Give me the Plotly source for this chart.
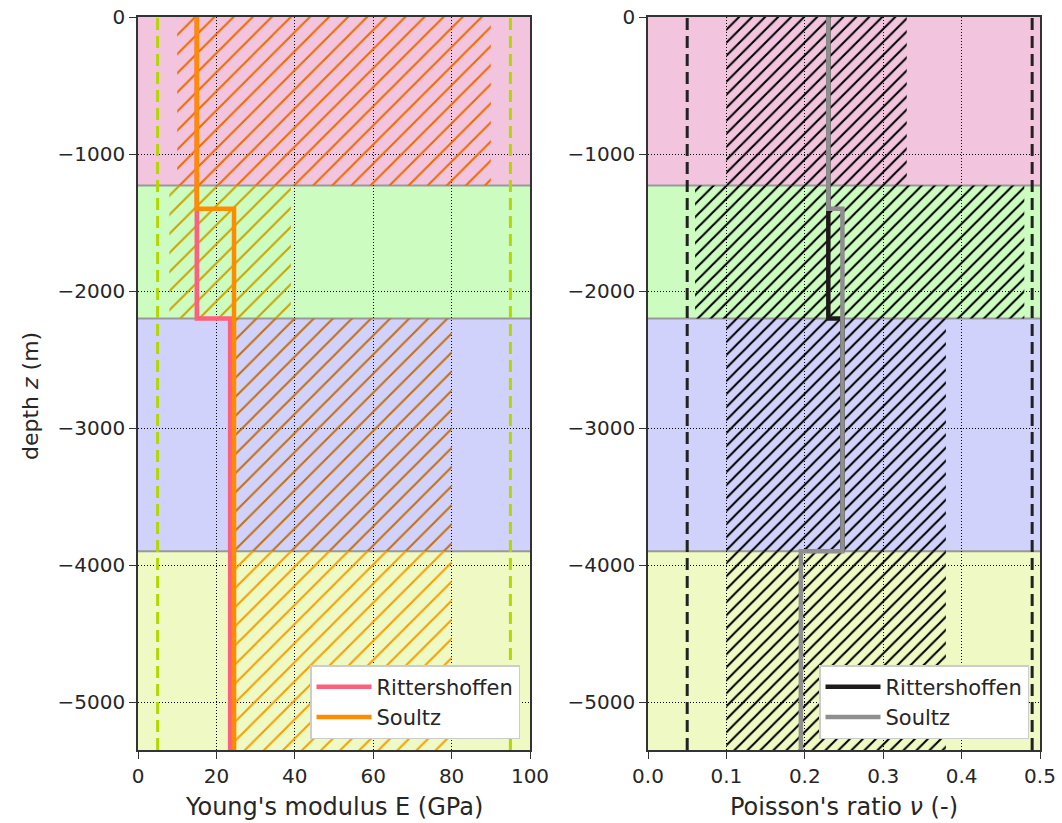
import plotly.graph_objects as go

# ---------------- data ----------------
layer_top = [0, -1230, -2200, -3900]
layer_bot = [-1230, -2200, -3900, -5350]
layer_colors = ["#f2c4dd", "#ccfcc0", "#d0d2fb", "#eff9c3"]

# Young's modulus hatched ranges per layer (GPa)
E_min = [10, 8, 25, 25]
E_max = [90, 39, 80, 80]
E_hatch_colors = ["#ee6a00", "#c9a400", "#c46e10", "#f4a000"]

# Poisson's ratio hatched ranges per layer
nu_min = [0.1, 0.06, 0.1, 0.1]
nu_max = [0.33, 0.48, 0.38, 0.38]

# profiles
ritt_E_depth = [0, -2200, -2200, -5350]
ritt_E = [15, 15, 23.5, 23.5]
soultz_E_depth = [0, -1400, -1400, -5350]
soultz_E = [15, 15, 24.5, 24.5]

ritt_nu_depth = [0, -2200, -2200, -3900]
ritt_nu = [0.23, 0.23, 0.248, 0.248]
soultz_nu_depth = [0, -1400, -1400, -3900, -3900, -5350]
soultz_nu = [0.23, 0.23, 0.248, 0.248, 0.195, 0.195]

E_bounds = [5, 95]
nu_bounds = [0.05, 0.49]

y_range = [-5350, 0]
E_ticks = [0, 20, 40, 60, 80, 100]
nu_ticks = [0.0, 0.1, 0.2, 0.3, 0.4, 0.5]
nu_ticklabels = ["0.0", "0.1", "0.2", "0.3", "0.4", "0.5"]
depth_ticks = [-5000, -4000, -3000, -2000, -1000, 0]

FONT = "DejaVu Sans"
TXT = "#262626"

fig = go.Figure()

# layer backgrounds
for i in range(4):
    for xr in ["x", "x2"]:
        fig.add_shape(type="rect", xref=xr + " domain", yref="y" if xr == "x" else "y2",
                      x0=0, x1=1, y0=layer_bot[i], y1=layer_top[i],
                      fillcolor=layer_colors[i], line_width=0, layer="below")
for i in range(1, 4):
    for xr in ["x", "x2"]:
        fig.add_shape(type="line", xref=xr + " domain", yref="y" if xr == "x" else "y2",
                      x0=0, x1=1, y0=layer_top[i], y1=layer_top[i],
                      line=dict(color="#999999", width=2), layer="below")

# hatched ranges
for i in range(4):
    fig.add_trace(go.Scatter(
        x=[E_min[i], E_max[i], E_max[i], E_min[i], E_min[i]],
        y=[layer_top[i], layer_top[i], layer_bot[i], layer_bot[i], layer_top[i]],
        mode="none", fill="toself", fillcolor="rgba(0,0,0,0)",
        fillpattern=dict(shape="/", fgcolor=E_hatch_colors[i], bgcolor="rgba(0,0,0,0)",
                         fgopacity=1, size=13.5, solidity=0.15),
        showlegend=False, hoverinfo="skip", xaxis="x", yaxis="y"))
    fig.add_trace(go.Scatter(
        x=[nu_min[i], nu_max[i], nu_max[i], nu_min[i], nu_min[i]],
        y=[layer_top[i], layer_top[i], layer_bot[i], layer_bot[i], layer_top[i]],
        mode="none", fill="toself", fillcolor="rgba(0,0,0,0)",
        fillpattern=dict(shape="/", fgcolor="#000000", bgcolor="rgba(0,0,0,0)",
                         fgopacity=1, size=9.2, solidity=0.22),
        showlegend=False, hoverinfo="skip", xaxis="x2", yaxis="y2"))

# bounds (dashed)
for b in E_bounds:
    fig.add_trace(go.Scatter(x=[b, b], y=y_range, mode="lines",
                             line=dict(color="#b2d800", width=3, dash="12px,6px"),
                             showlegend=False, hoverinfo="skip", xaxis="x", yaxis="y"))
for b in nu_bounds:
    fig.add_trace(go.Scatter(x=[b, b], y=y_range, mode="lines",
                             line=dict(color="#222222", width=3, dash="12px,6px"),
                             showlegend=False, hoverinfo="skip", xaxis="x2", yaxis="y2"))

# profiles
fig.add_trace(go.Scatter(x=ritt_E, y=ritt_E_depth, mode="lines", name="Rittershoffen",
                         line=dict(color="#ff5f7e", width=4.5), xaxis="x", yaxis="y",
                         legend="legend"))
fig.add_trace(go.Scatter(x=soultz_E, y=soultz_E_depth, mode="lines", name="Soultz",
                         line=dict(color="#ff8c00", width=4.5), xaxis="x", yaxis="y",
                         legend="legend"))
fig.add_trace(go.Scatter(x=ritt_nu, y=ritt_nu_depth, mode="lines", name="Rittershoffen",
                         line=dict(color="#1e1a1a", width=4.5), xaxis="x2", yaxis="y2",
                         legend="legend2"))
fig.add_trace(go.Scatter(x=soultz_nu, y=soultz_nu_depth, mode="lines", name="Soultz",
                         line=dict(color="#8f8f8f", width=4.5), xaxis="x2", yaxis="y2",
                         legend="legend2"))

axis_common = dict(showline=True, mirror=True, linecolor="#333333", linewidth=1.5,
                   ticks="outside", ticklen=7, tickwidth=1.3, tickcolor="#333333",
                   showgrid=True, gridcolor="black", gridwidth=0.8, griddash="1px,2px",
                   zeroline=False, tickfont=dict(family=FONT, size=20, color=TXT),
                   ticklabeloverflow="allow", automargin=False)

W, H = 1062, 823
ml, mr, mt, mb = 138, 22, 17, 73
pw = W - ml - mr
ph = H - mt - mb
d1 = [0, 392 / pw]
d2 = [510 / pw, 1]

leg_common = dict(xanchor="right", yanchor="bottom", bgcolor="white", bordercolor="#cccccc",
                  borderwidth=1.5, font=dict(family=FONT, size=21, color=TXT),
                  itemwidth=55, tracegroupgap=0)

fig.update_layout(
    width=W, height=H,
    margin=dict(l=ml, r=mr, t=mt, b=mb),
    paper_bgcolor="white", plot_bgcolor="white",
    font=dict(family=FONT, color=TXT),
    xaxis=dict(domain=d1, range=[0, 100], tickvals=E_ticks, anchor="y", **axis_common),
    yaxis=dict(domain=[0, 1], range=y_range, tickvals=depth_ticks, anchor="x", **axis_common),
    xaxis2=dict(domain=d2, range=[0, 0.5], tickvals=nu_ticks, ticktext=nu_ticklabels,
                anchor="y2", **axis_common),
    yaxis2=dict(domain=[0, 1], range=y_range, tickvals=depth_ticks, anchor="x2", **axis_common),
    legend=dict(x=(520 - ml) / pw, y=(750 - 739) / ph, **leg_common),
    legend2=dict(x=(1029 - ml) / pw, y=(750 - 739) / ph, **leg_common),
    annotations=[
        dict(text="Young's modulus E (GPa)", xref="paper", yref="paper",
             x=(d1[0] + d1[1]) / 2, y=-(807 - 750) / ph, xanchor="center", yanchor="middle",
             showarrow=False, font=dict(family=FONT, size=24, color=TXT)),
        dict(text="Poisson's ratio <i>ν</i> (-)", xref="paper", yref="paper",
             x=(d2[0] + d2[1]) / 2, y=-(807 - 750) / ph, xanchor="center", yanchor="middle",
             showarrow=False, font=dict(family=FONT, size=24, color=TXT)),
        dict(text="depth <i>z</i> (m)", xref="paper", yref="paper",
             x=(30 - ml) / pw, y=(750 - 396) / ph, xanchor="center", yanchor="middle",
             textangle=-90, showarrow=False, font=dict(family=FONT, size=22, color=TXT)),
    ],
)

fig.write_html("out.html", config={"displayModeBar": False},
               post_script="document.body.style.margin='0';")
